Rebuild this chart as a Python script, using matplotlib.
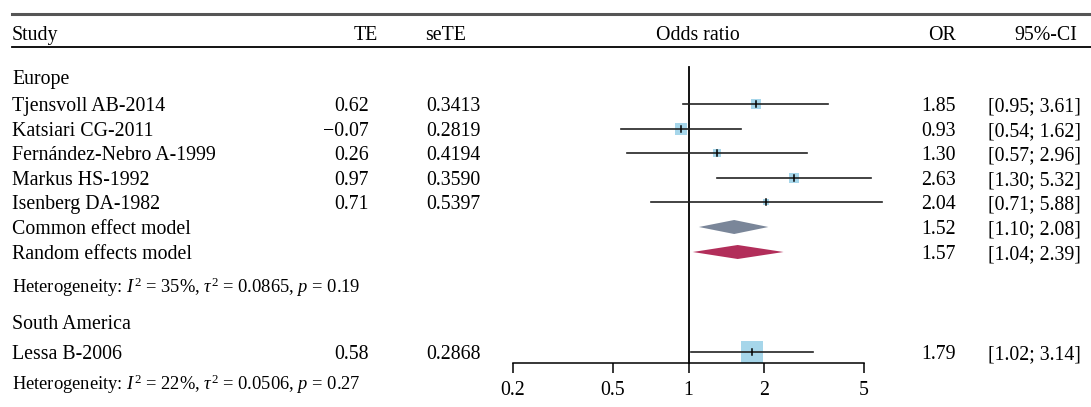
import numpy as np
import matplotlib.pyplot as plt

plt.rcParams['font.family'] = 'Liberation Serif'
plt.rcParams['mathtext.fontset'] = 'custom'
plt.rcParams['mathtext.rm'] = 'Liberation Serif'
plt.rcParams['mathtext.it'] = 'Liberation Serif:italic'

# data
eu_study = ['Tjensvoll AB-2014', 'Katsiari CG-2011', 'Fernández-Nebro A-1999',
            'Markus HS-1992', 'Isenberg DA-1982']
eu_te = [0.62, -0.07, 0.26, 0.97, 0.71]
eu_se = [0.3413, 0.2819, 0.4194, 0.3590, 0.5397]
eu_or = [1.85, 0.93, 1.30, 2.63, 2.04]
eu_lo = [0.95, 0.54, 0.57, 1.30, 0.71]
eu_hi = [3.61, 1.62, 2.96, 5.32, 5.88]
eu_common = [1.52, 1.10, 2.08]
eu_random = [1.57, 1.04, 2.39]
eu_het = ['35%', '0.0865', '0.19']

sa_study = ['Lessa B-2006']
sa_te = [0.58]
sa_se = [0.2868]
sa_or = [1.79]
sa_lo = [1.02]
sa_hi = [3.14]
sa_het = ['22%', '0.0506', '0.27']

xticks = [0.2, 0.5, 1, 2, 5]
null_value = 1

# layout (pixels, figure is 1091 x 407)
W, H = 1091, 407
x02, x5 = 513, 864
ppd = (x5 - x02) / np.log10(5 / 0.2)
xmin = 10 ** (np.log10(0.2) - x02 / ppd)
xmax = 10 ** (np.log10(5) + (W - x5) / ppd)

fig = plt.figure(figsize=(W / 100, H / 100), dpi=100)
tx = fig.add_axes([0, 0, 1, 1])
tx.set_xlim(0, W)
tx.set_ylim(H, 0)
tx.axis('off')
ax = fig.add_axes([0, 0, 1, 1], facecolor='none')
ax.set_xscale('log')
ax.set_xlim(xmin, xmax)
ax.set_ylim(H, 0)

fs = 14.3
fs_small = 13.3
sq_col = '#A6D6EA'
common_col = '#7A8699'
random_col = '#B22E5A'

# header
tx.plot([12, W], [14, 14], color='#555555', lw=2.2)
tx.plot([12, W], [47, 47], color='black', lw=1.3)
hy = 33
tx.text(12, hy, 'Study', fontsize=fs, va='center_baseline')
tx.text(378, hy, 'TE', fontsize=fs, va='center_baseline', ha='right')
tx.text(425, hy, 'seTE', fontsize=fs, va='center_baseline')
tx.text(698, hy, 'Odds ratio', fontsize=fs, va='center_baseline', ha='center')
tx.text(956, hy, 'OR', fontsize=fs, va='center_baseline', ha='right')
tx.text(1077, hy, '95%-CI', fontsize=fs, va='center_baseline', ha='right')


def study_rows(names, te, se, orr, lo, hi, ys, wmax):
    w = 1 / np.array(se) ** 2
    w = w / w.sum()
    for i, y in enumerate(ys):
        tx.text(12, y, names[i], fontsize=fs, va='center_baseline')
        tx.text(369, y, f'{te[i]:.2f}'.replace('-', '\u2212'), fontsize=fs,
                va='center_baseline', ha='right')
        tx.text(426, y, f'{se[i]:.4f}', fontsize=fs, va='center_baseline')
        tx.text(956, y, f'{orr[i]:.2f}', fontsize=fs, va='center_baseline', ha='right')
        tx.text(1081, y, f'[{lo[i]:.2f}; {hi[i]:.2f}]', fontsize=fs,
                va='center_baseline', ha='right')
        side = wmax * np.sqrt(w[i]) * 0.72
        ax.scatter([orr[i]], [y], marker='s', s=side ** 2, color=sq_col,
                   linewidths=0, zorder=2)
        ax.plot([lo[i], hi[i]], [y, y], color='#222222', lw=1.2, zorder=3)
        ax.plot([orr[i], orr[i]], [y - 3, y + 3], color='black', lw=1.1, zorder=4)


def diamond(est, y, color, label, h=7):
    tx.text(12, y, label, fontsize=fs, va='center_baseline')
    tx.text(956, y, f'{est[0]:.2f}', fontsize=fs, va='center_baseline', ha='right')
    tx.text(1081, y, f'[{est[1]:.2f}; {est[2]:.2f}]', fontsize=fs,
            va='center_baseline', ha='right')
    ax.fill([est[1], est[0], est[2], est[0]], [y, y - h, y, y + h],
            color=color, lw=0, zorder=2)


def het(vals, y):
    tx.text(12, y, 'Heterogeneity: $I^2$ = ' + vals[0] + ', $\\tau^2$ = ' + vals[1]
            + ', $p$ = ' + vals[2], fontsize=fs_small, va='center_baseline')


tx.text(12, 77, 'Europe', fontsize=fs, va='center_baseline')
study_rows(eu_study, eu_te, eu_se, eu_or, eu_lo, eu_hi,
           [104, 129, 153, 178, 202], 22)
diamond(eu_common, 227, common_col, 'Common effect model')
diamond(eu_random, 252, random_col, 'Random effects model')
het(eu_het, 284)

tx.text(12, 322, 'South America', fontsize=fs, va='center_baseline')
study_rows(sa_study, sa_te, sa_se, sa_or, sa_lo, sa_hi, [352], 22)
het(sa_het, 381)

# reference line and axis
ax.plot([null_value, null_value], [67, 363], color='black', lw=1.3, zorder=1)
for s in ['top', 'left', 'right']:
    ax.spines[s].set_visible(False)
ax.spines['bottom'].set_position(('data', 363))
ax.spines['bottom'].set_bounds(0.2, 5)
ax.spines['bottom'].set_linewidth(1.1)
ax.set_yticks([])
ax.set_xticks(xticks)
ax.set_xticklabels([f'{t:g}' for t in xticks])
ax.minorticks_off()
ax.tick_params(axis='x', length=7, width=1.1, labelsize=fs, pad=6)

fig.savefig('out.png', dpi=100)
